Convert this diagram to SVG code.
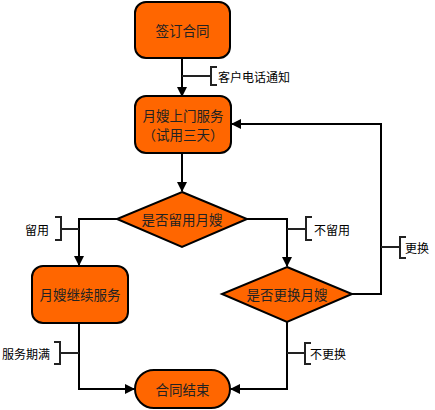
<svg xmlns="http://www.w3.org/2000/svg" width="435" height="410" viewBox="0 0 435 410">
<style>
.n{fill:#FF6600;stroke:#000;stroke-width:2}
.t{font-family:"Noto Sans CJK SC","Liberation Sans",sans-serif;font-size:13.5px;fill:#222;text-anchor:middle;dominant-baseline:central}
.l{font-family:"Noto Sans CJK SC","Liberation Sans",sans-serif;font-size:12px;fill:#000;dominant-baseline:central}
.c{fill:none;stroke:#000;stroke-width:2}
.b{fill:none;stroke:#222;stroke-width:2}
</style>
<defs>
<marker id="a" markerWidth="10" markerHeight="10" refX="9" refY="5" orient="auto" markerUnits="userSpaceOnUse">
<path d="M0,0 L10,5 L0,10 Z" fill="#000"/>
</marker>
</defs>
<rect width="435" height="410" fill="#fff"/>
<g id="connectors">
<path class="c" d="M182,58 V96" marker-end="url(#a)"/>
<path class="c" d="M182,153 V191" marker-end="url(#a)"/>
<path class="c" d="M117,219 H79 V265" marker-end="url(#a)"/>
<path class="c" d="M247,219 H287 V266" marker-end="url(#a)"/>
<path class="c" d="M79,323 V389 H134" marker-end="url(#a)"/>
<path class="c" d="M287,322 V389 H231" marker-end="url(#a)"/>
<path class="c" d="M352,294 H381 V124 H232" marker-end="url(#a)"/>
<g id="label-notify">
<path class="b" d="M182,76 H211 M217,67 H211 V85 H217"/>
<text class="l" x="218" y="76">客户电话通知</text>
</g>
<g id="label-keep">
<path class="b" d="M79,229 H61 M55,217 H61 V240 H55"/>
<text class="l" x="25" y="229">留用</text>
</g>
<g id="label-nokeep">
<path class="b" d="M287,229 H306 M312,217 H306 V240 H312"/>
<text class="l" x="314" y="229">不留用</text>
</g>
<g id="label-replace">
<path class="b" d="M381,247 H400 M406,237 H400 V258 H406"/>
<text class="l" x="405" y="247">更换</text>
</g>
<g id="label-expire">
<path class="b" d="M79,353 H60 M54,342 H60 V364 H54"/>
<text class="l" x="2" y="353">服务期满</text>
</g>
<g id="label-noreplace">
<path class="b" d="M287,353 H305 M311,343 H305 V364 H311"/>
<text class="l" x="310" y="353">不更换</text>
</g>
</g>
<g id="sign">
<rect class="n" x="135" y="2" width="95" height="56" rx="11"/>
<text class="t" x="182.5" y="30">签订合同</text>
</g>
<g id="visit">
<rect class="n" x="135" y="96" width="96" height="57" rx="11"/>
<text class="t" x="183" y="115">月嫂上门服务</text>
<text class="t" x="183" y="134">（试用三天）</text>
</g>
<g id="keep">
<path class="n" d="M182,192 L247,219 L182,247 L117,219 Z"/>
<text class="t" x="182" y="219">是否留用月嫂</text>
</g>
<g id="continue">
<rect class="n" x="32" y="266" width="96" height="57" rx="11"/>
<text class="t" x="80" y="294">月嫂继续服务</text>
</g>
<g id="replace">
<path class="n" d="M287,267 L352,294 L287,322 L222,294 Z"/>
<text class="t" x="287" y="294">是否更换月嫂</text>
</g>
<g id="end">
<rect class="n" x="135" y="370" width="95" height="38" rx="19"/>
<text class="t" x="182.5" y="389">合同结束</text>
</g>
</svg>
